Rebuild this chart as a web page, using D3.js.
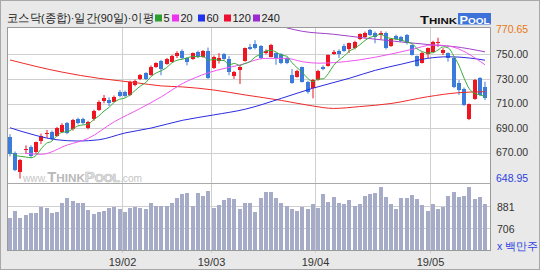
<!DOCTYPE html>
<html>
<head>
<meta charset="utf-8">
<script src="https://cdn.jsdelivr.net/npm/d3@7"></script>
<style>
html, body { margin: 0; padding: 0; background: #fff; }
svg { display: block; }
text { font-family: "Liberation Sans", Arial, sans-serif; }
</style>
</head>
<body>
<script>
// daily candles, 92 sessions (Jan - mid May 2019)
var opens = [682.5, 670, 654.5, 672, 674.4, 670.8, 679.5, 685.5, 687, 683.6,
  687, 694, 689.3, 697.6, 697.6, 690, 697.2, 704.7, 712.3, 712.8,
  711.5, 719.6, 719.6, 716.9, 725, 729.9, 734.5, 733.2, 739.4, 744.8,
  742.1, 744, 748.6, 752.9, 746.7, 746, 752.1, 747.6, 752.9, 738.6,
  744.5, 750.2, 746, 732.6, 737.2, 744.8, 756.2, 758.4, 756.7, 750.8,
  748, 750.8, 750.2, 747.2, 733.2, 731.8, 739.4, 727.7, 722.4, 729.1,
  740, 740.5, 750.2, 752.9, 756.5, 754, 754.9, 762.2, 763.8, 769.8,
  767.6, 765.7, 767.6, 756.7, 764.9, 764, 765.7, 757.6, 748.6, 743.2,
  750.2, 752.1, 760, 750.8, 750.8, 746.7, 726.4, 721.4, 697.2, 713.4,
  731, 723.2];
var highs = [685, 671, 665, 676, 676, 679, 685.5, 688.5, 688, 691,
  694, 695, 697.5, 698.5, 698.5, 696, 705, 712.5, 716.9, 715,
  716.5, 721, 720.5, 728.5, 729.5, 734, 735.5, 741, 743.5, 745.5,
  747, 749.5, 752.5, 754, 747.5, 751.5, 753, 753.5, 755.5, 749,
  751, 751, 748.5, 736.5, 741, 755.5, 758.5, 761.5, 757.5, 754,
  758.5, 751.5, 751, 748, 738, 737.5, 740, 728.5, 730, 737.5,
  741, 750, 753.5, 754, 758.5, 759.5, 761, 767, 768.5, 770.65,
  768.5, 769, 768.5, 763, 766, 765, 766.5, 758, 749, 752,
  755.5, 761, 763.5, 755, 751.5, 747.5, 729, 723, 710, 730,
  731.5, 727.7];
var lows = [667, 655, 648.95, 669, 666, 669, 677, 682, 680, 683,
  686, 685, 688, 693, 693, 689, 696, 704, 710.2, 708,
  711, 715, 715, 716, 724, 729, 729, 732.5, 739, 733,
  741.5, 743.5, 747, 746, 741, 745.5, 747, 747, 730, 738,
  742.5, 745.5, 733, 730, 725.8, 744, 753.5, 754, 746, 750,
  747.5, 741.5, 742, 742, 726, 731, 727, 718, 714.2, 728.5,
  737, 740, 749.5, 747, 752, 751, 754, 761.5, 763, 765,
  759, 762, 754, 756, 761.5, 760, 758, 749, 740, 742.5,
  746.7, 751.5, 756, 749.5, 744, 722.5, 717, 708, 696.5, 713,
  716, 712.8];
var closes = [669, 656, 664, 673, 667.3, 678.5, 683.6, 686, 681, 689.8,
  692.5, 686, 696.6, 694, 694, 695.2, 704.1, 711.5, 714.2, 710.2,
  715.5, 716, 716, 727.7, 728.5, 733.2, 729.7, 740, 742.7, 737.8,
  746, 748.6, 750.8, 746.7, 744, 750.8, 747.6, 752.7, 730.5, 748,
  747.2, 746, 735.9, 735.9, 740, 754.9, 754, 754.9, 746.7, 753,
  757.6, 746.7, 742.7, 742.7, 726.9, 736.4, 727.7, 719.1, 729, 736.7,
  737.8, 749.4, 752.1, 750.2, 752.5, 759, 760.2, 766.5, 767.6, 765.7,
  764.3, 767.6, 754.9, 762.2, 762.2, 761, 759, 749.4, 740.5, 751.3,
  754.9, 760.2, 760.4, 753.5, 746.7, 723.2, 721, 708.8, 709.6, 729.1,
  716.9, 714.2];
// volume, in millions of shares
var volumes = [789, 844, 789, 810, 824, 824, 876, 865, 824, 832,
  902, 941, 920, 902, 902, 850, 818, 832, 844, 865,
  876, 857, 836, 865, 873, 865, 855, 905, 879, 879,
  879, 905, 946, 973, 981, 879, 981, 962, 1001, 865,
  886, 926, 946, 938, 857, 905, 905, 836, 946, 993,
  993, 941, 907, 881, 857, 844, 876, 857, 897, 865,
  975, 912, 954, 907, 894, 928, 881, 894, 962, 975,
  985, 1032, 954, 894, 857, 946, 946, 967, 934, 886,
  844, 897, 857, 876, 962, 993, 954, 962, 1032, 934,
  954, 897];

// moving averages
var ma5 = [671, 668, 667, 666.5, 665.9, 667.8, 673.3, 677.7, 679.3, 683.8,
  686.6, 687.1, 689.2, 691.8, 692.6, 693.2, 696.8, 699.8, 703.8, 707,
  711.1, 713.5, 714.4, 717.1, 720.7, 724.3, 727, 731.8, 734.8, 736.7,
  739.2, 743, 745.2, 746, 747.2, 748.2, 748, 748.4, 745.1, 745.9,
  745.2, 744.9, 741.5, 742.6, 741, 742.5, 744.1, 747.9, 750.1, 752.7,
  753.2, 751.8, 749.3, 748.5, 743.3, 739.1, 735.3, 730.6, 727.8, 729.8,
  730.1, 734.4, 741, 745.2, 748.4, 752.6, 754.8, 757.7, 761.2, 763.8,
  764.9, 766.3, 764, 762.9, 762.2, 761.6, 759.9, 758.8, 754.4, 752.2,
  751, 751.3, 753.5, 756.1, 755.1, 748.8, 741, 730.6, 721.9, 718.3,
  717.1, 715.7];
var ma20 = [[3, 669.5], [6, 668.7], [11, 676.3], [15, 681.7], [20, 695.2], [25, 706.1],
  [29, 715.5], [33, 726.1], [38, 735], [44, 741.3], [49, 746.7], [53, 746.7],
  [56, 744], [59, 742.8], [62, 743.2], [67, 745.5], [73, 750.2], [77, 754],
  [81, 757.6], [84, 756.7], [91, 741.5]];
var ma60 = [[0, 690.3], [5, 684], [9, 680.5], [13, 679.5], [17, 680.5], [22, 686],
  [27, 690], [33, 696.3], [39, 700.7], [45, 705.3], [52, 714.2], [58, 722.4],
  [65, 730.5], [70, 737], [75, 742], [80, 746.7], [84, 748], [88, 747], [91, 745.2]];
var ma120 = [[0, 745.4], [10, 735.5], [17, 730.5], [24, 727], [29, 724.3], [33, 723.5],
  [39, 721], [45, 717], [52, 712.5], [58, 708], [62, 706], [67, 707.5],
  [73, 710], [80, 715.5], [86, 718.8], [91, 719.6]];
var ma240 = [[53, 771.5], [56, 768.7], [62, 766.3], [68, 763.2], [75, 760],
  [81, 757.6], [85, 756.3], [91, 752]];

var priceTicks = [750, 730, 710, 690, 670];
var priceMax = 770.65, priceMin = 648.95;
var volTicks = [881, 706];
var monthIdx = [22, 39, 59, 81];
var monthLabels = ["19/02", "19/03", "19/04", "19/05"];
var legendLabels = ["5", "20", "60", "120", "240"];
var legendColors = ["#2e9e2e", "#ee33ee", "#2233ee", "#ee1133", "#9a2bd0"];

var W = 540, H = 270;
var plotL = 7.5, plotR = 490.5, plotT = 27.5, plotB = 250.5, sepY = 183.5;
var UP = "#ee1520", DOWN = "#3b7bdc";

var svg = d3.select("body").append("svg").attr("width", W).attr("height", H);

// background & frame
svg.append("rect").attr("x", 0.5).attr("y", 0.5).attr("width", W - 1).attr("height", H - 1)
  .attr("fill", "#e9e9e9").attr("stroke", "#a8a8a8");
svg.append("rect").attr("x", plotL).attr("y", plotT)
  .attr("width", plotR - plotL).attr("height", plotB - plotT).attr("fill", "#fff");

var x = d3.scaleBand().domain(d3.range(closes.length)).range([7.4, 487.6]).padding(0);
var y = d3.scaleLinear().domain([priceMin, priceMax]).range([178.6, 28.9]);
var yv = d3.scaleLinear().domain([706, 881]).range([228.3, 206]);
var cx = function (i) { return x(i) + x.bandwidth() / 2; };
var snap = function (v) { return Math.round(v) + 0.5; };

var defs = svg.append("defs");
defs.append("clipPath").attr("id", "priceClip").append("rect")
  .attr("x", plotL).attr("y", plotT).attr("width", plotR - plotL).attr("height", sepY - plotT);

// grid
var grid = svg.append("g").attr("stroke", "#cfcfcf").attr("stroke-width", 1);
priceTicks.forEach(function (t) {
  grid.append("line").attr("x1", plotL).attr("x2", plotR)
    .attr("y1", snap(y(t))).attr("y2", snap(y(t)));
});
volTicks.forEach(function (t) {
  grid.append("line").attr("x1", plotL).attr("x2", plotR)
    .attr("y1", snap(yv(t))).attr("y2", snap(yv(t)));
});
monthIdx.forEach(function (m) {
  grid.append("line").attr("x1", snap(x(m))).attr("x2", snap(x(m)))
    .attr("y1", plotT).attr("y2", plotB + 2.5);
});

// watermark (one text, styled pieces)
var wm = svg.append("text").attr("x", 23).attr("y", 181.7).attr("font-weight", "bold")
  .attr("textLength", 119).attr("lengthAdjust", "spacingAndGlyphs");
wm.append("tspan").attr("font-size", 10).attr("font-weight", "normal").attr("fill", "#c6c6c6").text("www.");
wm.append("tspan").attr("font-size", 14.5).attr("fill", "#b9b9b9").text("T");
wm.append("tspan").attr("font-size", 11.5).attr("fill", "#b9b9b9").text("HINK");
wm.append("tspan").attr("font-size", 14.5).attr("fill", "#e6e6e6")
  .attr("stroke", "#bdbdbd").attr("stroke-width", 0.7).text("P");
wm.append("tspan").attr("font-size", 11.5).attr("fill", "#e6e6e6")
  .attr("stroke", "#bdbdbd").attr("stroke-width", 0.7).text("OOL");
wm.append("tspan").attr("font-size", 10).attr("font-weight", "normal").attr("fill", "#c6c6c6").text(".com");

// volume bars
svg.append("g").selectAll("rect").data(volumes).join("rect")
  .attr("x", function (d, i) { return Math.round(cx(i) - 2); })
  .attr("width", 4)
  .attr("y", function (d) { return Math.round(yv(d)); })
  .attr("height", function (d) { return 250 - Math.round(yv(d)); })
  .attr("fill", "#a6abc8");

// candles
var cg = svg.append("g").attr("clip-path", "url(#priceClip)");
var candle = cg.selectAll("g").data(closes).join("g")
  .attr("fill", function (c, i) { return c >= opens[i] ? UP : DOWN; });
candle.append("rect")
  .attr("x", function (c, i) { return Math.round(cx(i) - 2) + 1.5; })
  .attr("width", 1)
  .attr("y", function (c, i) { return y(highs[i]); })
  .attr("height", function (c, i) { return y(lows[i]) - y(highs[i]); });
candle.append("rect")
  .attr("x", function (c, i) { return Math.round(cx(i) - 2); })
  .attr("width", 4)
  .attr("y", function (c, i) { return Math.round(y(Math.max(c, opens[i]))); })
  .attr("height", function (c, i) {
    return Math.max(1, Math.round(y(Math.min(c, opens[i]))) - Math.round(y(Math.max(c, opens[i]))));
  });

// moving averages
var lineIdx = d3.line().x(function (d, i) { return cx(i); }).y(function (d) { return y(d); })
  .curve(d3.curveMonotoneX);
var linePts = d3.line().x(function (d) { return cx(d[0]); }).y(function (d) { return y(d[1]); })
  .curve(d3.curveMonotoneX);
var mg = svg.append("g").attr("clip-path", "url(#priceClip)").attr("fill", "none").attr("stroke-width", 1);
mg.append("path").attr("d", linePts(ma120)).attr("stroke", "#ee2a2a");
mg.append("path").attr("d", linePts(ma60)).attr("stroke", "#2b2bdd");
mg.append("path").attr("d", linePts(ma240)).attr("stroke", "#a040c8");
mg.append("path").attr("d", linePts(ma20)).attr("stroke", "#ee55ee");
mg.append("path").attr("d", lineIdx(ma5)).attr("stroke", "#3aaa3a");

// frame lines
svg.append("rect").attr("x", plotL).attr("y", plotT)
  .attr("width", plotR - plotL).attr("height", plotB - plotT)
  .attr("fill", "none").attr("stroke", "#9a9a9a");
svg.append("line").attr("x1", plotL).attr("x2", plotR).attr("y1", sepY).attr("y2", sepY)
  .attr("stroke", "#a9a9a9");

// right axis labels
var ax = svg.append("g").attr("font-size", 10.5).attr("fill", "#333");
ax.append("text").attr("x", 496).attr("y", y(priceMax)).attr("dy", "0.35em")
  .attr("fill", "#e8770e").text(priceMax.toFixed(2));
priceTicks.forEach(function (t) {
  ax.append("text").attr("x", 496).attr("y", y(t)).attr("dy", "0.35em").text(t.toFixed(2));
});
ax.append("text").attr("x", 496).attr("y", y(priceMin)).attr("dy", "0.35em")
  .attr("fill", "#2c3fe0").text(priceMin.toFixed(2));
volTicks.forEach(function (t) {
  ax.append("text").attr("x", 497).attr("y", yv(t)).attr("dy", "0.45em").text(t);
});
svg.append("text").attr("x", 497).attr("y", 246).attr("dy", "0.35em")
  .attr("font-family", "'Noto Sans CJK KR', sans-serif").attr("font-size", 10.5)
  .attr("fill", "#2c3fe0").text("x 백만주");

// month labels
svg.append("g").selectAll("text").data(monthIdx).join("text")
  .attr("x", function (m) { return snap(x(m)); }).attr("y", 266)
  .attr("text-anchor", "middle").attr("font-size", 11).attr("fill", "#333")
  .text(function (m, i) { return monthLabels[i]; });

// title & legend
svg.append("text").attr("x", 7).attr("y", 22)
  .attr("font-family", "'Noto Sans CJK KR', sans-serif").attr("font-size", 11.5)
  .attr("fill", "#222").attr("textLength", 147).attr("lengthAdjust", "spacingAndGlyphs")
  .text("코스닥(종합)·일간(90일)·이평");
var legX = [155, 172, 198, 224, 253];
legendLabels.forEach(function (l, i) {
  svg.append("rect").attr("x", legX[i]).attr("y", 14.5).attr("width", 7).attr("height", 7)
    .attr("fill", legendColors[i]);
  svg.append("text").attr("x", legX[i] + 8.5).attr("y", 22).attr("font-size", 11)
    .attr("fill", "#222").text(l);
});

// logo
var lt = svg.append("text").attr("x", 420).attr("y", 23.5).attr("font-weight", "bold")
  .attr("fill", "#111").attr("textLength", 37).attr("lengthAdjust", "spacingAndGlyphs");
lt.append("tspan").attr("font-size", 11.5).text("T");
lt.append("tspan").attr("font-size", 9).text("HINK");
svg.append("rect").attr("x", 458).attr("y", 13).attr("width", 33).attr("height", 11.5)
  .attr("fill", "#3d73d9");
var lp = svg.append("text").attr("x", 459.5).attr("y", 23.5).attr("font-weight", "bold")
  .attr("fill", "#fff").attr("textLength", 30).attr("lengthAdjust", "spacingAndGlyphs");
lp.append("tspan").attr("font-size", 11.5).text("P");
lp.append("tspan").attr("font-size", 9).text("OOL");
</script>
</body>
</html>
